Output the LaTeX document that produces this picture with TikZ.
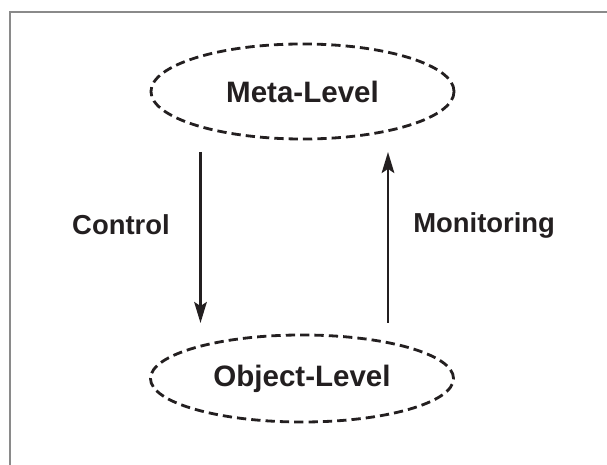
\documentclass[tikz,border=0pt]{standalone}
\usepackage{fontspec}
\setmainfont{Liberation Sans}
\usetikzlibrary{shapes.geometric,arrows.meta}
\definecolor{ink}{HTML}{231F20}
\definecolor{framegray}{HTML}{8A8A8A}
\begin{document}
\begin{tikzpicture}
            [x=0.025cm, y=-0.025cm,
            level/.style={ellipse, draw=ink, line width=2pt, dash pattern=on 6.6pt off 3.6pt,
                text=ink, font=\fontsize{21}{25}\selectfont\bfseries, minimum width=7.575cm},
            flow/.style={ink, line width=1.6pt, -{Stealth[length=15pt, width=9pt, inset=3pt]}},
            tag/.style={text=ink, font=\fontsize{19.5}{23}\selectfont\bfseries, inner sep=0pt}]

            \useasboundingbox (0,0) rectangle (607,465);

            % frame (top and left only)
            \draw[framegray, line width=1.1pt] (10,465) -- (10,12) -- (607,12);

            \node[level, minimum height=2.375cm] (meta) at (302.5,91.5) {Meta-Level};
            \node[level, minimum height=2.175cm] (obj) at (302,378.5) {Object-Level};

            % arrow ends
            \coordinate (ctrl top) at (200.5,152);
            \coordinate (ctrl end) at (200.5,323);
            \coordinate (mon start) at (388,323);
            \coordinate (mon end) at (388,152);

            \draw[flow] (ctrl top) -- (ctrl end);
            \draw[flow] (mon start) -- (mon end);

            % Labels for the arrows
            \node[tag, anchor=east] (ctrl) at (170,225) {Control};
            \node[tag, anchor=west] (mon) at (413,225) {Monitoring};

        \end{tikzpicture}
\end{document}
